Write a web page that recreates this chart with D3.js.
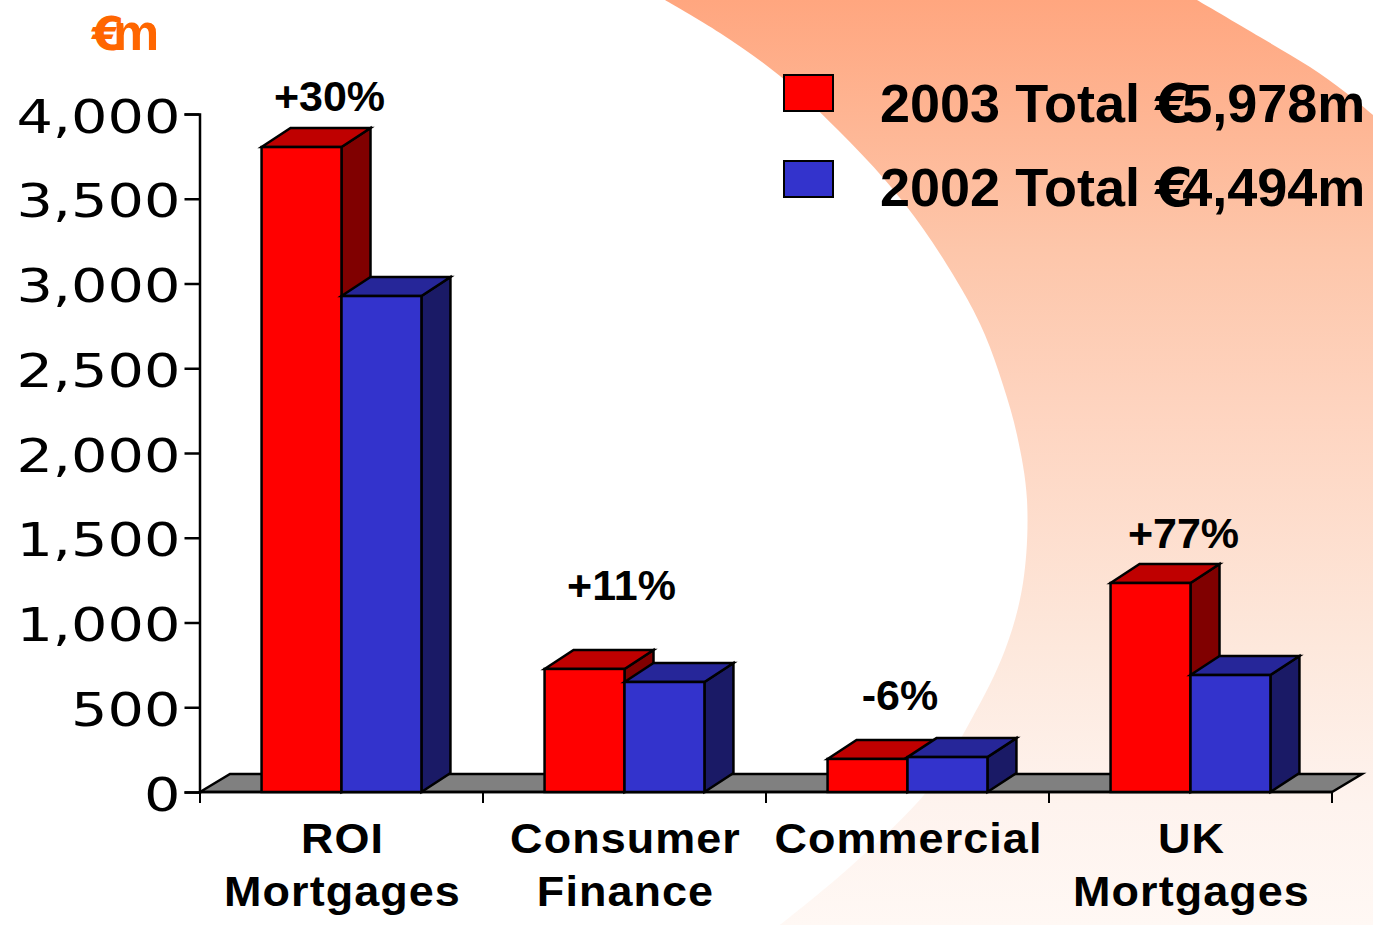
<!DOCTYPE html>
<html lang="en">
<head>
<meta charset="utf-8">
<title>Loan growth by segment</title>
<style>
    html, body { margin: 0; padding: 0; background: #fff; }
    svg { display: block; }
    text { font-family: "Liberation Sans", Arial, sans-serif; font-weight: bold; fill: #000; }
    .axis-y text { font-family: "DejaVu Sans", sans-serif; font-weight: normal; font-size: 47px; }
    .cat { font-size: 42px; letter-spacing: 1px; }
    .pct { font-size: 43px; }
    .leg { font-size: 54px; }
</style>
<script src="https://d3js.org/d3.v7.min.js"></script>
</head>
<body>
<script>
const categories = ["ROI Mortgages", "Consumer Finance", "Commercial", "UK Mortgages"];
const seriesNames = ["2003", "2002"];
const values2003 = [3805, 726, 195, 1233];
const values2002 = [2926, 649, 206, 690];
const growthLabels = ["+30%", "+11%", "-6%", "+77%"];
const growthBaselines = [111, 600, 710, 548];
const growthCentres = [329.5, 621.5, 900, 1183.5];
const yTicks = [0, 500, 1000, 1500, 2000, 2500, 3000, 3500, 4000];
const legendTotals = ["5,978m", "4,494m"];

// background swoosh outline, only decoration
const swooshEdge = [[665, 0], [720, 33], [780, 76], [838, 130], [885, 180], [924, 230], [965, 295], [985, 335],
    [1003, 385], [1017, 435], [1027, 500], [1023, 583], [1005, 650], [971, 720], [928, 790], [850, 867], [780, 925]];
const swooshTop = [[1373, 115], [1345, 92], [1310, 67], [1260, 37], [1197, 0]];

const w = 1373, h = 925;
const depthX = 29, depthY = -19;

const colors = {
    "2003": { front: "#ff0000", top: "#bf0000", side: "#800000" },
    "2002": { front: "#3333cc", top: "#262699", side: "#1a1a66" }
};

const svg = d3.select("body").append("svg").attr("width", w).attr("height", h);

// gradient for the swoosh
const grad = svg.append("defs").append("linearGradient")
    .attr("id", "swoosh").attr("x1", 0).attr("y1", 0).attr("x2", 0).attr("y2", 1);
[[0, "#ffa67f"], [0.27, "#fdc6aa"], [0.43, "#fed3be"], [0.7, "#fde8dc"], [0.87, "#fef3ee"], [1, "#fff8f4"]]
    .forEach(s => grad.append("stop").attr("offset", s[0]).attr("stop-color", s[1]));

const curved = d3.line().curve(d3.curveCatmullRom);
svg.append("path")
    .attr("d", curved(swooshEdge) + "L1373,925" + "L" + curved(swooshTop).slice(1) + "Z")
    .attr("fill", "url(#swoosh)");

const x = d3.scaleBand().domain(categories).range([200, 1332]);
const xInner = d3.scaleBand().domain(seriesNames).range([0, x.bandwidth()]).paddingOuter(0.77);
const y = d3.scaleLinear().domain([0, 4000]).range([792, 114]);

// floor
svg.append("path")
    .attr("d", d3.line()([[x.range()[0], y(0)], [x.range()[0] + 30, y(0) - 18], [x.range()[1] + 30, y(0) - 18], [x.range()[1], y(0)]]) + "Z")
    .attr("fill", "#808080").attr("stroke", "#000").attr("stroke-width", 2.5);

// axes
const yAxis = d3.axisLeft(y).tickValues(yTicks).tickSize(15).tickPadding(0).tickFormat(d3.format(","));
const gy = svg.append("g").attr("class", "axis-y").attr("transform", "translate(199.5,0)").call(yAxis);
gy.selectAll("path, line").attr("stroke", "#000").attr("stroke-width", 2.5);
gy.selectAll("text")
    .attr("x", 0).attr("y", 0).attr("dy", null)
    .attr("text-anchor", "end")
    .attr("transform", "translate(-19,18) scale(1.22,1)");

const xLine = svg.append("g");
xLine.append("line").attr("x1", x.range()[0]).attr("x2", x.range()[1]).attr("y1", y(0)).attr("y2", y(0))
    .attr("stroke", "#000").attr("stroke-width", 2.5);
xLine.selectAll(".tick").data(categories.map(c => x(c)).concat(x.range()[1])).enter().append("line")
    .attr("class", "tick")
    .attr("x1", d => d).attr("x2", d => d).attr("y1", y(0)).attr("y2", y(0) + 11)
    .attr("stroke", "#000").attr("stroke-width", 2);

// 3d bars, 2003 first so the 2002 bar sits over its side face
function drawBars(name, values) {
    const c = colors[name];
    const g = svg.append("g").selectAll("g").data(values).enter().append("g");
    const left = (d, i) => x(categories[i]) + xInner(name);
    const right = (d, i) => left(d, i) + xInner.bandwidth();
    const line = d3.line();
    g.append("path").attr("fill", c.side)
        .attr("d", (d, i) => line([[right(d, i), y(d)], [right(d, i) + depthX, y(d) + depthY], [right(d, i) + depthX, y(0) + depthY], [right(d, i), y(0)]]) + "Z");
    g.append("path").attr("fill", c.top)
        .attr("d", (d, i) => line([[left(d, i), y(d)], [left(d, i) + depthX, y(d) + depthY], [right(d, i) + depthX, y(d) + depthY], [right(d, i), y(d)]]) + "Z");
    g.append("rect").attr("fill", c.front)
        .attr("x", left).attr("y", d => y(d))
        .attr("width", xInner.bandwidth()).attr("height", d => y(0) - y(d));
    g.selectAll("path, rect").attr("stroke", "#000").attr("stroke-width", 2.5).attr("stroke-linejoin", "miter");
}
drawBars("2003", values2003);
drawBars("2002", values2002);

// category labels on two lines, stretched a bit like the slide
categories.forEach(cat => {
    const parts = cat.split(" ");
    parts.forEach((p, i) => {
        svg.append("text").attr("class", "cat")
            .attr("transform", "translate(" + (x(cat) + x.bandwidth() / 2 + 1) + "," + (853 + i * 53) + ") scale(1.07,1)")
            .attr("text-anchor", "middle")
            .text(p);
    });
});

// growth labels
svg.selectAll(".pct").data(growthLabels).enter().append("text")
    .attr("class", "pct")
    .attr("x", (d, i) => growthCentres[i])
    .attr("y", (d, i) => growthBaselines[i])
    .attr("text-anchor", "middle")
    .text(d => d);

// euro sign is wider than its slot, so the next glyph runs into it like in the slide
function euroText(sel, after, size, back) {
    sel.append("tspan").attr("font-family", "'DejaVu Sans'").attr("font-size", size).text("€");
    sel.append("tspan").attr("dx", back).text(after);
}

// unit label
const unit = svg.append("text").attr("x", 92).attr("y", 50).style("fill", "#ff6600").attr("font-size", 52);
euroText(unit, "m", 46, -11);

// legend
seriesNames.forEach((name, i) => {
    const rowY = [75, 161][i];
    svg.append("rect").attr("x", 784).attr("y", rowY).attr("width", 49).attr("height", 36)
        .attr("fill", colors[name].front).attr("stroke", "#000").attr("stroke-width", 2);
    const t = svg.append("text").attr("class", "leg").attr("x", 880).attr("y", [122, 206][i]);
    t.append("tspan").text(name + " Total ");
    euroText(t, legendTotals[i], 54, -10.5);
});
</script>
</body>
</html>
